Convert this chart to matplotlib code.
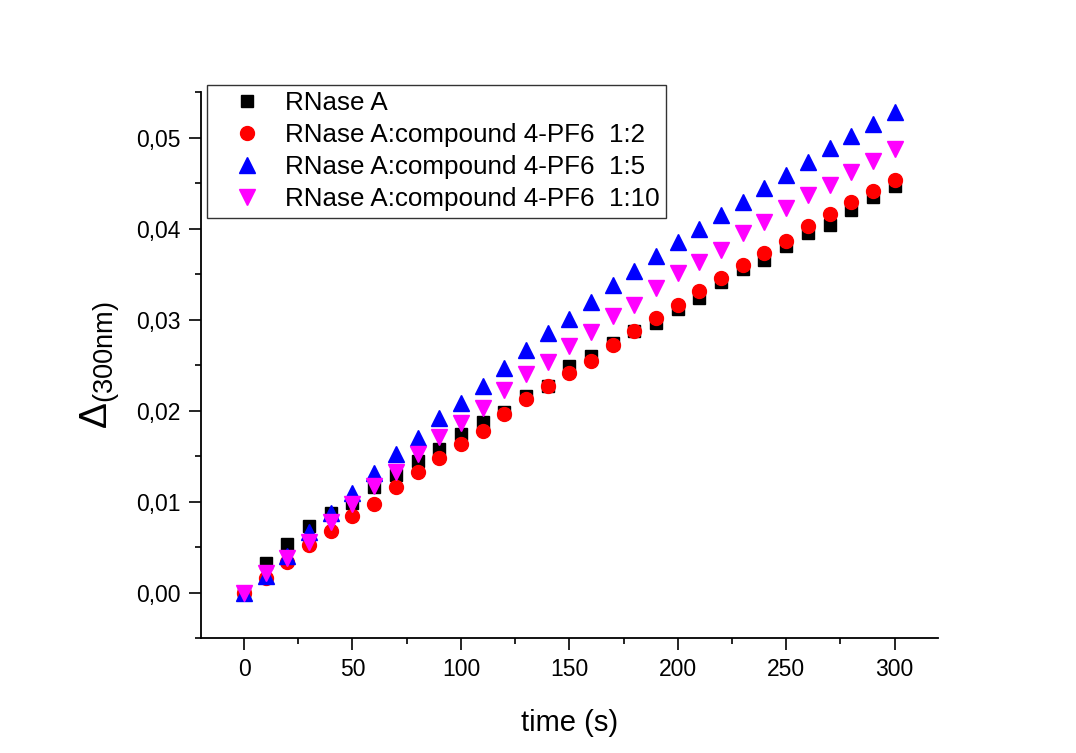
import matplotlib
matplotlib.use('Agg')
import matplotlib.pyplot as plt
from matplotlib.ticker import MultipleLocator, FuncFormatter

# data
time_s = [0, 10, 20, 30, 40, 50, 60, 70, 80, 90, 100, 110, 120, 130, 140, 150,
          160, 170, 180, 190, 200, 210, 220, 230, 240, 250, 260, 270, 280, 290, 300]

rnase = [0.0, 0.0033, 0.0053, 0.0073, 0.0088, 0.0099, 0.0116, 0.0129, 0.0145, 0.0158,
         0.0174, 0.0188, 0.0199, 0.0216, 0.0227, 0.0249, 0.0260, 0.0275, 0.0288, 0.0297,
         0.0312, 0.0324, 0.0342, 0.0356, 0.0366, 0.0381, 0.0395, 0.0404, 0.0421, 0.0435,
         0.0447]
ratio_1_2 = [0.0, 0.0016, 0.0034, 0.0052, 0.0068, 0.0084, 0.0097, 0.0116, 0.0133, 0.0148,
             0.0163, 0.0178, 0.0196, 0.0213, 0.0227, 0.0242, 0.0255, 0.0272, 0.0288, 0.0302,
             0.0316, 0.0332, 0.0346, 0.0360, 0.0373, 0.0387, 0.0403, 0.0416, 0.0429, 0.0442,
             0.0454]
ratio_1_5 = [0.0, 0.0018, 0.0040, 0.0067, 0.0088, 0.0110, 0.0131, 0.0152, 0.0170, 0.0192,
             0.0209, 0.0227, 0.0247, 0.0267, 0.0285, 0.0301, 0.0320, 0.0338, 0.0354, 0.0370,
             0.0386, 0.0400, 0.0415, 0.0430, 0.0445, 0.0459, 0.0474, 0.0489, 0.0502, 0.0515,
             0.0529]
ratio_1_10 = [0.0, 0.0022, 0.0038, 0.0056, 0.0078, 0.0097, 0.0117, 0.0133, 0.0152, 0.0171,
              0.0187, 0.0203, 0.0223, 0.0240, 0.0254, 0.0271, 0.0287, 0.0304, 0.0316, 0.0335,
              0.0351, 0.0363, 0.0377, 0.0395, 0.0408, 0.0423, 0.0437, 0.0448, 0.0462, 0.0475,
              0.0488]

labels = ['RNase A',
          'RNase A:compound 4-PF6  1:2',
          'RNase A:compound 4-PF6  1:5',
          'RNase A:compound 4-PF6  1:10']

plt.rcParams['font.family'] = ['Liberation Sans', 'DejaVu Sans']
plt.rcParams['mathtext.fontset'] = 'custom'
plt.rcParams['mathtext.rm'] = 'Liberation Sans'
plt.rcParams['mathtext.it'] = 'Liberation Sans'

fig = plt.figure(figsize=(10.76, 7.53), dpi=100)
ax = fig.add_axes([0.1865, 0.1527, 0.6852, 0.7245])

ax.plot(time_s, rnase, 's', color='black', ms=9, label=labels[0])
ax.plot(time_s, ratio_1_2, 'o', color='red', ms=10, label=labels[1])
ax.plot(time_s, ratio_1_5, '^', color='blue', ms=11, label=labels[2])
ax.plot(time_s, ratio_1_10, 'v', color='magenta', ms=11, label=labels[3])

ax.set_xlim(-20, 320)
ax.set_ylim(-0.005, 0.055)

# only left and bottom axis lines
ax.spines['top'].set_visible(False)
ax.spines['right'].set_visible(False)
ax.spines['left'].set_linewidth(1.3)
ax.spines['bottom'].set_linewidth(1.3)

ax.xaxis.set_major_locator(MultipleLocator(50))
ax.xaxis.set_minor_locator(MultipleLocator(25))
ax.yaxis.set_major_locator(MultipleLocator(0.01))
ax.yaxis.set_minor_locator(MultipleLocator(0.005))
ax.yaxis.set_major_formatter(FuncFormatter(lambda v, p: ('%.2f' % v).replace('.', ',')))

ax.tick_params(which='major', direction='out', length=8.5, width=1.2, labelsize=16.5, pad=6)
ax.tick_params(which='minor', direction='out', length=4.5, width=1.2)

ax.set_xlabel('time (s)', fontsize=21, labelpad=20)
ax.set_ylabel(r'$\Delta_{\mathrm{(300nm)}}$', fontsize=28, labelpad=10)

leg = ax.legend(loc='upper left', bbox_to_anchor=(0.0085, 1.014), borderaxespad=0,
                fontsize=18.7, fancybox=False, framealpha=1, edgecolor='#333333',
                borderpad=0.25, labelspacing=0.31, handlelength=2.55, handletextpad=0.2)
leg.get_frame().set_linewidth(1.0)

fig.savefig('out.png', dpi=100)
